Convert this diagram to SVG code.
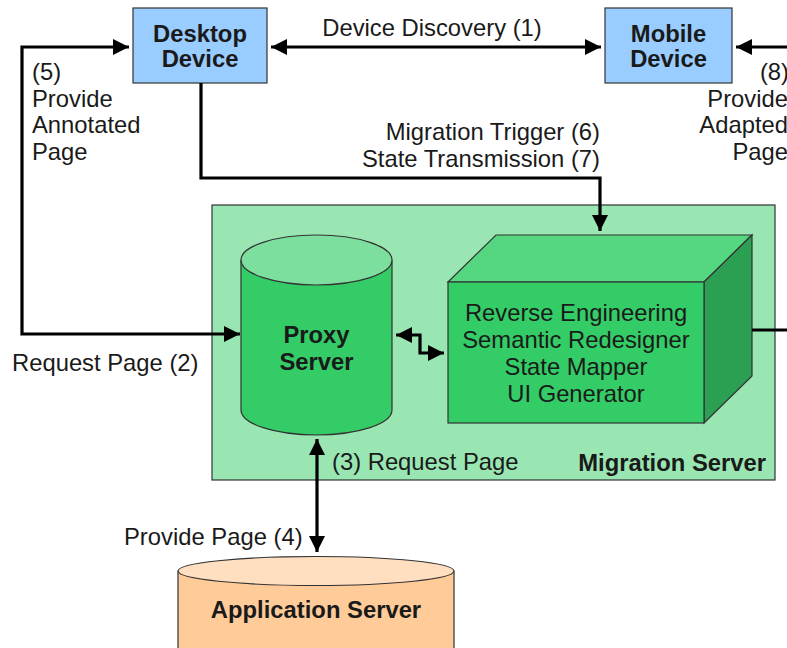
<svg xmlns="http://www.w3.org/2000/svg" width="787" height="648" viewBox="0 0 787 648">
  <defs>
    <marker id="arrow" viewBox="0 0 10 10" refX="10" refY="5" markerWidth="6" markerHeight="5" markerUnits="strokeWidth" orient="auto-start-reverse">
      <path d="M0,0 L10,5 L0,10 Z" fill="#000"/>
    </marker>
    <style>
      text { font-family: "Liberation Sans", Arial, sans-serif; fill: #1a1a1a; font-size: 23.8px; }
      .b { font-weight: bold; }
      .c { text-anchor: middle; }
      .r { text-anchor: end; }
      .conn { fill: none; stroke: #000; stroke-width: 3.2; }
      .edge { stroke: #333; stroke-width: 1.2; }
    </style>
  </defs>

  <rect width="787" height="648" fill="#fff"/>

  <!-- Migration server container -->
  <g id="migration-server">
    <rect x="212" y="205" width="563" height="275" fill="#99e6b3" class="edge"/>
    <text class="b r" x="766" y="471">Migration Server</text>
  </g>

  <!-- Desktop device -->
  <g id="desktop-device">
    <rect x="133" y="8" width="134" height="75" fill="#99ccff" class="edge"/>
    <text class="b c" x="200" y="42">Desktop</text>
    <text class="b c" x="200" y="67">Device</text>
  </g>

  <!-- Mobile device -->
  <g id="mobile-device">
    <rect x="605" y="8" width="127" height="75" fill="#99ccff" class="edge"/>
    <text class="b c" x="668.5" y="42">Mobile</text>
    <text class="b c" x="668.5" y="67">Device</text>
  </g>

  <!-- Proxy server cylinder -->
  <g id="proxy-server">
    <path d="M241,260 V410 A75.5,25 0 0 0 392,410 V260" fill="#33cc66" class="edge"/>
    <ellipse cx="316.5" cy="260" rx="75.5" ry="25" fill="#7ddf9d" class="edge"/>
    <text class="b c" x="316.5" y="343">Proxy</text>
    <text class="b c" x="316.5" y="370">Server</text>
  </g>

  <!-- Adaptation engine block -->
  <g id="adaptation-engine">
    <polygon points="448,282 496,235 752,235 704,282" fill="#55d680" class="edge"/>
    <polygon points="704,282 752,235 752,376 704,423" fill="#2ba052" class="edge"/>
    <rect x="448" y="282" width="256" height="141" fill="#33cc66" class="edge"/>
    <text class="c" x="576" y="321">Reverse Engineering</text>
    <text class="c" x="576" y="348">Semantic Redesigner</text>
    <text class="c" x="576" y="375">State Mapper</text>
    <text class="c" x="576" y="402">UI Generator</text>
  </g>

  <!-- Application server cylinder -->
  <g id="application-server">
    <path d="M178,571 V660 H454 V571" fill="#ffcc99" class="edge"/>
    <ellipse cx="316" cy="571" rx="138" ry="14.5" fill="#ffdfbf" class="edge"/>
    <text class="b c" x="316" y="618">Application Server</text>
  </g>

  <!-- Connectors -->
  <g id="connectors">
    <path class="conn" d="M271,47 H601" marker-start="url(#arrow)" marker-end="url(#arrow)"/>
    <path class="conn" d="M240,334 H22 V47 H129" marker-start="url(#arrow)" marker-end="url(#arrow)"/>
    <path class="conn" d="M201,83 V178 H600 V231"  marker-end="url(#arrow)"/>
    <path class="conn" d="M396,335 H420 V353 H444" marker-start="url(#arrow)" marker-end="url(#arrow)"/>
    <path class="conn" d="M752,330 H790"/>
    <path class="conn" d="M790,47 H736" marker-end="url(#arrow)"/>
    <path class="conn" d="M317,439 V552" marker-start="url(#arrow)" marker-end="url(#arrow)"/>
  </g>

  <!-- Connector labels -->
  <g id="labels">
    <text class="c" x="432" y="36">Device Discovery (1)</text>
    <text x="32" y="80">(5)</text>
    <text x="32" y="107">Provide</text>
    <text x="32" y="133">Annotated</text>
    <text x="32" y="160">Page</text>
    <text class="r" x="789" y="80">(8)</text>
    <text class="r" x="788" y="107">Provide</text>
    <text class="r" x="788" y="133">Adapted</text>
    <text class="r" x="788" y="160">Page</text>
    <text class="r" x="600" y="140">Migration Trigger (6)</text>
    <text class="r" x="600" y="167">State Transmission (7)</text>
    <text x="12" y="371">Request Page (2)</text>
    <text x="332" y="470">(3) Request Page</text>
    <text x="124" y="545">Provide Page (4)</text>
  </g>
</svg>
